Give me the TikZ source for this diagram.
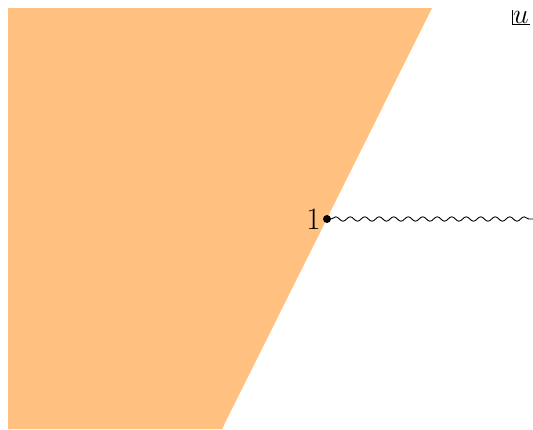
\documentclass[tikz,border=0pt]{standalone}
\usetikzlibrary{decorations.pathmorphing}
\definecolor{regionorange}{RGB}{255,192,128}
\newcommand{\bigtxt}[1]{\scalebox{1.5}{\huge #1}}
\newcommand{\midtxt}[1]{\scalebox{1.35}{\huge #1}}
\begin{document}
\begin{tikzpicture}[x=1pt,y=-1pt,
  region/.style={fill=regionorange,draw=none},
  cut/.style={decorate,decoration={snake,segment length=14.5pt,amplitude=2.2pt},line width=0.9pt},
  pt/.style={circle,fill=black,inner sep=0pt,minimum size=8pt}]
\useasboundingbox (0,0) rectangle (533,429);
\fill[region] (8,8) -- (432,8) -- (222,429) -- (8,429) -- cycle;
\node[pt] (p) at (327,219) {};
\node[anchor=east,inner sep=2pt] (lab) at (p.west) {\bigtxt{$1$}};
\coordinate (e) at (533,219);
\draw[cut] (p.east) -- (e);
\node[inner sep=1pt,anchor=north east] (u) at (530,10) {\midtxt{$u$}};
\draw[line width=0.9pt] (u.north west) -- (u.south west) -- (u.south east);
\end{tikzpicture}
\end{document}
